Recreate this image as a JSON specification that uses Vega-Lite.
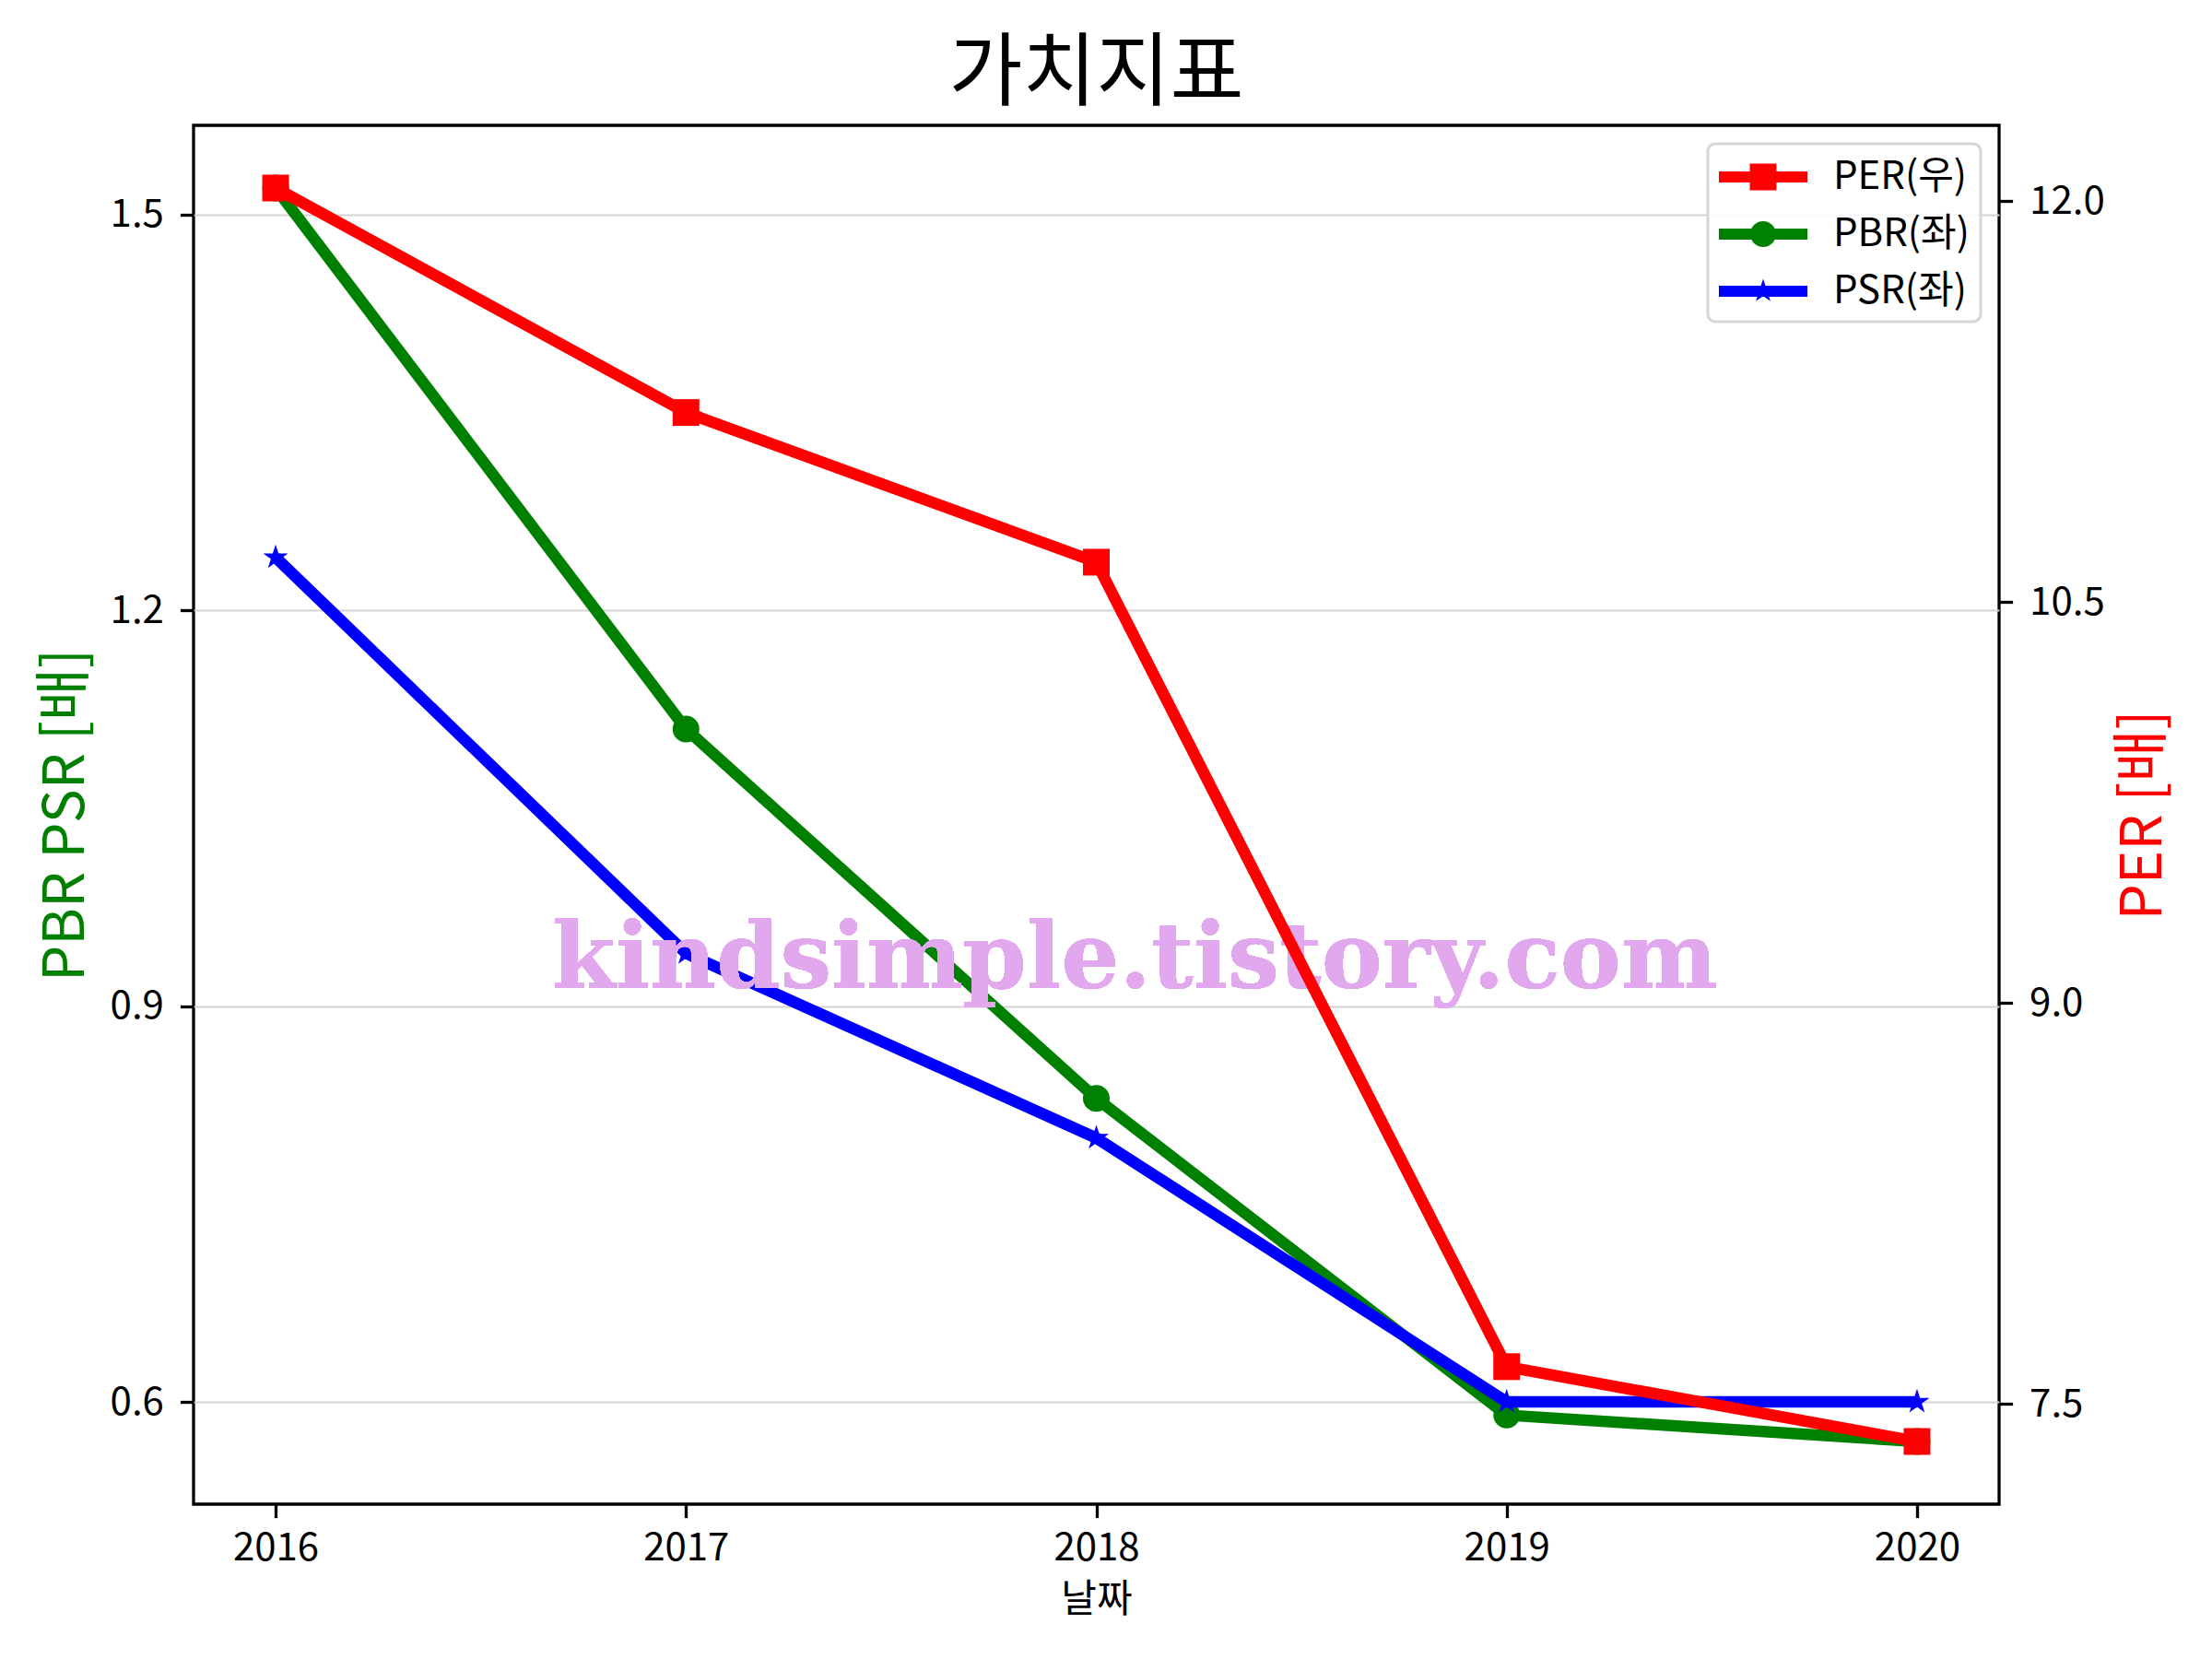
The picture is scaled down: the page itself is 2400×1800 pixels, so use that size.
{
  "$schema": "https://vega.github.io/schema/vega-lite/v6.json",
  "width": 1959,
  "height": 1496,
  "autosize": {"type": "none"},
  "padding": {"left": 210, "top": 136, "right": 231, "bottom": 168},
  "background": "white",
  "config": {
    "view": {"stroke": "black", "strokeWidth": 3.3},
    "font": "Noto Sans CJK KR",
    "axis": {
      "domain": false,
      "tickColor": "black",
      "tickWidth": 3.3,
      "tickSize": 14.6,
      "labelFont": "Noto Sans CJK KR",
      "labelFontSize": 42,
      "labelColor": "black",
      "titleFont": "Noto Sans CJK KR",
      "titleFontWeight": "normal",
      "labelPadding": 18,
      "grid": false
    }
  },
  "title": {
    "text": "가치지표",
    "fontSize": 87,
    "font": "Noto Sans CJK KR",
    "fontWeight": "normal",
    "color": "black",
    "anchor": "middle",
    "offset": 10
  },
  "data": {
    "values": [
      {"year": 2016, "series": "PER(우)", "value": 12.05},
      {"year": 2017, "series": "PER(우)", "value": 11.21},
      {"year": 2018, "series": "PER(우)", "value": 10.65},
      {"year": 2019, "series": "PER(우)", "value": 7.64},
      {"year": 2020, "series": "PER(우)", "value": 7.36},
      {"year": 2016, "series": "PBR(좌)", "value": 1.52},
      {"year": 2017, "series": "PBR(좌)", "value": 1.11},
      {"year": 2018, "series": "PBR(좌)", "value": 0.83},
      {"year": 2019, "series": "PBR(좌)", "value": 0.59},
      {"year": 2020, "series": "PBR(좌)", "value": 0.57},
      {"year": 2016, "series": "PSR(좌)", "value": 1.24},
      {"year": 2017, "series": "PSR(좌)", "value": 0.94},
      {"year": 2018, "series": "PSR(좌)", "value": 0.8},
      {"year": 2019, "series": "PSR(좌)", "value": 0.6},
      {"year": 2020, "series": "PSR(좌)", "value": 0.6}
    ]
  },
  "encoding": {
    "x": {
      "field": "year",
      "type": "quantitative",
      "scale": {"domain": [2015.8, 2020.2], "nice": false, "zero": false},
      "axis": {
        "values": [2016, 2017, 2018, 2019, 2020],
        "format": "d",
        "title": "날짜",
        "titleFontSize": 42,
        "titleColor": "black",
        "labelPadding": 13,
        "titlePadding": 15
      }
    }
  },
  "layer": [
    {
      "encoding": {
        "y": {
          "field": "value",
          "type": "quantitative",
          "scale": {"domain": [0.5225, 1.5675], "nice": false, "zero": false},
          "axis": {
            "orient": "left",
            "values": [0.6, 0.9, 1.2, 1.5],
            "format": ".1f",
            "grid": true,
            "gridColor": "#d3d3d3",
            "gridWidth": 2,
            "title": "PBR PSR [배]",
            "titleColor": "#008000",
            "titleFontSize": 62,
            "titlePadding": 16
          }
        }
      },
      "layer": [
        {
          "transform": [{"filter": "datum.series === 'PBR(좌)'"}],
          "mark": {"type": "line", "strokeWidth": 12.5, "strokeJoin": "round"},
          "encoding": {
            "color": {
              "field": "series",
              "type": "nominal",
              "scale": {"domain": ["PER(우)", "PBR(좌)", "PSR(좌)"], "range": ["#ff0000", "#008000", "#0000ff"]},
              "legend": {
                "title": null,
                "orient": "top-right",
                "offset": 20,
                "padding": 12,
                "fillColor": "rgba(255,255,255,0.8)",
                "strokeColor": "#d6d6d6",
                "cornerRadius": 8,
                "labelFont": "Noto Sans CJK KR",
                "labelFontSize": 42,
                "labelColor": "black",
                "labelOffset": 76,
                "labelLimit": 400,
                "rowPadding": 17,
                "symbolSize": 2304,
                "symbolStrokeWidth": 0,
                "encode": {
                  "legend": {"update": {"strokeWidth": {"value": 3}}},
                  "symbols": {
                    "update": {
                      "shape": {"signal": "datum.value === 'PER(우)' ? 'M-1,-0.25H3V0.25H-1Z M0.396,-0.604H1.604V0.604H0.396Z' : datum.value === 'PBR(좌)' ? 'M-1,-0.25H3V0.25H-1Z M0.417,0A0.583,0.583 0 1,1 1.583,0A0.583,0.583 0 1,1 0.417,0Z' : 'M-1,-0.25H3V0.25H-1Z M1,-0.56L1.1257,-0.173L1.5326,-0.173L1.2034,0.0661L1.3292,0.453L1,0.2139L0.6708,0.453L0.7966,0.0661L0.4674,-0.173L0.8743,-0.173Z'"},
                      "fill": {"signal": "datum.value === 'PER(우)' ? '#ff0000' : datum.value === 'PBR(좌)' ? '#008000' : '#0000ff'"},
                      "stroke": {"value": "transparent"},
                      "strokeWidth": {"value": 0},
                      "opacity": {"value": 1}
                    }
                  }
                }
              }
            }
          }
        },
        {
          "transform": [{"filter": "datum.series === 'PBR(좌)'"}],
          "mark": {"type": "point", "shape": "circle", "filled": true, "opacity": 1, "size": 841, "color": "#008000", "strokeWidth": 0}
        },
        {
          "transform": [{"filter": "datum.series === 'PSR(좌)'"}],
          "mark": {"type": "line", "strokeWidth": 12.5, "strokeJoin": "round"},
          "encoding": {
            "color": {
              "field": "series",
              "type": "nominal",
              "scale": {"domain": ["PER(우)", "PBR(좌)", "PSR(좌)"], "range": ["#ff0000", "#008000", "#0000ff"]}
            }
          }
        },
        {
          "transform": [{"filter": "datum.series === 'PSR(좌)'"}],
          "mark": {"type": "point", "shape": "M0,-1L0.2245,-0.309L0.9511,-0.309L0.3633,0.118L0.5878,0.809L0,0.382L-0.5878,0.809L-0.3633,0.118L-0.9511,-0.309L-0.2245,-0.309Z", "filled": true, "opacity": 1, "size": 807, "color": "#0000ff", "strokeWidth": 0}
        },
        {
          "mark": {"type": "text", "text": "kindsimple.tistory.com", "font": "DejaVu Serif", "fontWeight": "bold", "fontSize": 99, "color": "#e2a8ee", "align": "center", "baseline": "alphabetic"},
          "encoding": {
            "x": {"datum": 2018.094, "type": "quantitative"},
            "y": {"datum": 0.914, "type": "quantitative"}
          }
        }
      ]
    },
    {
      "encoding": {
        "y": {
          "field": "value",
          "type": "quantitative",
          "scale": {"domain": [7.1255, 12.2845], "nice": false, "zero": false},
          "axis": {
            "orient": "right",
            "values": [7.5, 9, 10.5, 12],
            "format": ".1f",
            "grid": false,
            "title": "PER [배]",
            "titleColor": "#ff0000",
            "titleFontSize": 62,
            "titleAngle": -90,
            "titleBaseline": "top",
            "titlePadding": 12
          }
        }
      },
      "layer": [
        {
          "transform": [{"filter": "datum.series === 'PER(우)'"}],
          "mark": {"type": "line", "strokeWidth": 12.5, "strokeJoin": "round"},
          "encoding": {
            "color": {
              "field": "series",
              "type": "nominal",
              "scale": {"domain": ["PER(우)", "PBR(좌)", "PSR(좌)"], "range": ["#ff0000", "#008000", "#0000ff"]}
            }
          }
        },
        {
          "transform": [{"filter": "datum.series === 'PER(우)'"}],
          "mark": {"type": "point", "shape": "square", "filled": true, "opacity": 1, "size": 841, "color": "#ff0000", "strokeWidth": 0}
        }
      ]
    }
  ],
  "resolve": {"scale": {"y": "independent"}}
}
